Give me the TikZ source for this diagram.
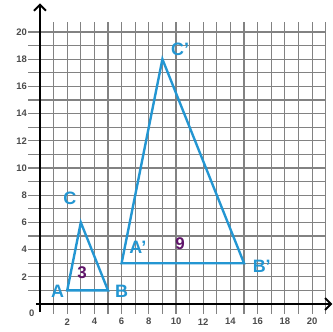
\documentclass[tikz,border=0pt]{standalone}
\usepackage{fontspec}
\setsansfont{Liberation Sans}
\usetikzlibrary{arrows.meta}
\definecolor{triblue}{RGB}{35,150,210}
\definecolor{penpurple}{RGB}{95,20,105}
\definecolor{gridgray}{RGB}{130,130,130}
\tikzset{
  gridline/.style={gridgray,line width=1.1pt},
  axisline/.style={black,line width=2pt,-{Straight Barb[length=6pt,width=12pt,line width=2pt]}},
  triangle/.style={triblue,line width=2.4pt,line join=miter},
  ticklabel/.style={font=\sffamily\bfseries\fontsize{9.5}{9.5}\selectfont,text=black!70,inner sep=0pt},
  ptlabel/.style={font=\sffamily\bfseries\fontsize{18}{18}\selectfont,text=triblue,inner sep=0pt},
  penlabel/.style={font=\sffamily\bfseries\fontsize{17}{17}\selectfont,text=penpurple,inner sep=0pt}
}
\begin{document}
\begin{tikzpicture}[x=0.48cm,y=0.48cm]
\useasboundingbox (-2.94,-1.99) rectangle (21.54,22.35);
\fill[white] (-2.94,-1.99) rectangle (21.54,22.35);
% grid
\foreach \i in {1,...,21} \draw[gridline] (\i,-0.7) -- (\i,20.75);
\foreach \j in {1,...,20} \draw[gridline] (-0.85,\j) -- (21,\j);
% axes
\coordinate (O) at (0,0);
\coordinate (xend) at (21.5,0);
\coordinate (yend) at (0,22.1);
\coordinate (xstart) at (-0.3,0);
\coordinate (ystart) at (0,-0.6);
\draw[axisline] (xstart) -- (xend);
\draw[axisline] (ystart) -- (yend);
% tick labels
\foreach \v in {2,4,...,20} {
  \node[ticklabel,anchor=east] (yl\v) at (-0.95,\v) {\v};
  \node[ticklabel] (xl\v) at (\v,-1.3) {\v};
}
\node[ticklabel] (zero) at (-0.6,-0.65) {0};
% small triangle
\coordinate (A) at (2,1);
\coordinate (B) at (5,1);
\coordinate (C) at (3,6);
\draw[triangle] (A) -- (B) -- (C) -- cycle;
% large triangle
\coordinate (A1) at (6,3);
\coordinate (B1) at (15,3);
\coordinate (C1) at (9,18);
\draw[triangle] (A1) -- (B1) -- (C1) -- cycle;
% labels
\node[ptlabel] (lA) at (1.3,0.95) {A};
\node[ptlabel] (lB) at (6.0,0.95) {B};
\node[ptlabel] (lC) at (2.2,7.8) {C};
\node[ptlabel] (lA1) at (7.2,4.2) {A'};
\node[ptlabel] (lB1) at (16.3,2.75) {B'};
\node[ptlabel] (lC1) at (10.3,18.75) {C'};
\node[penlabel] (n3) at (3.1,2.3) {3};
\node[penlabel] (n9) at (10.3,4.4) {9};
\end{tikzpicture}
\end{document}
